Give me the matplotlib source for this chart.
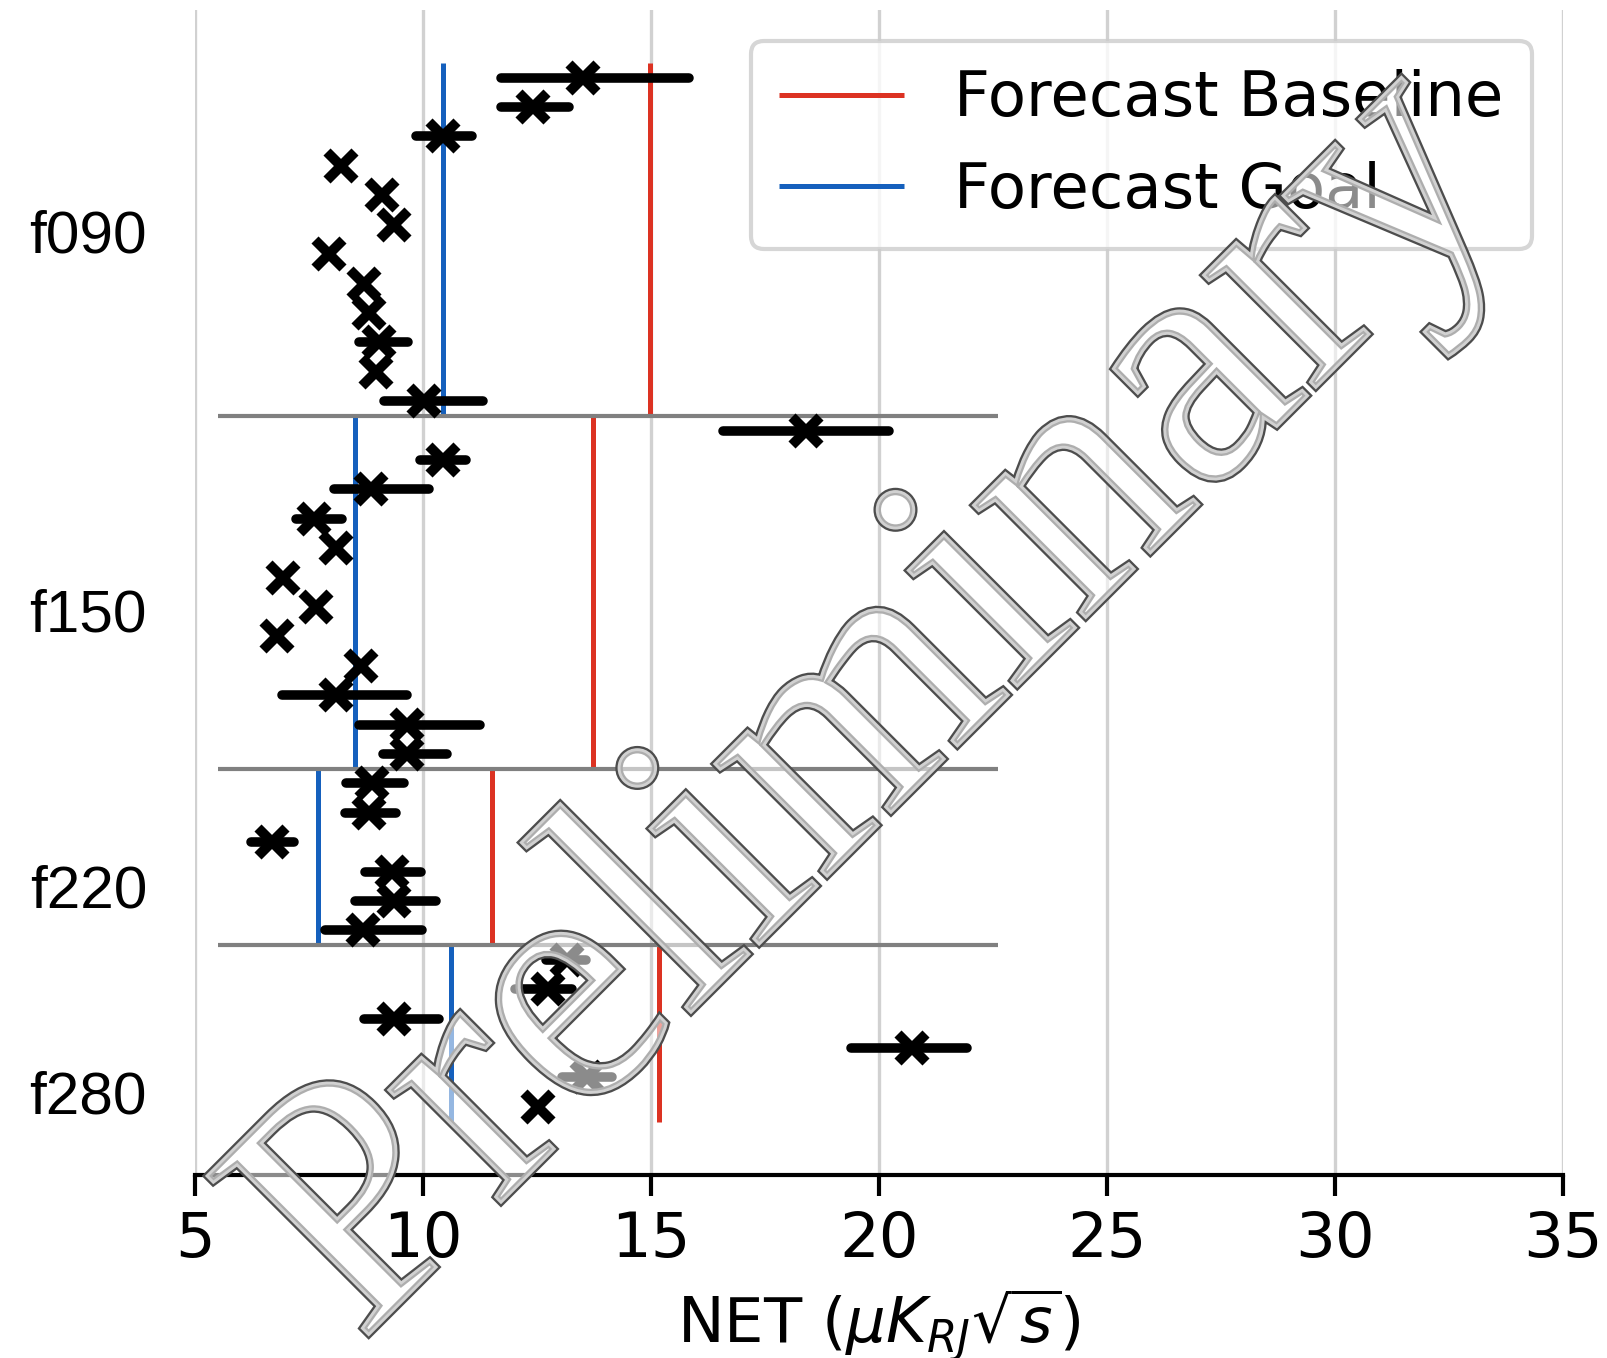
import numpy as np
import matplotlib.pyplot as plt
import matplotlib.patheffects as pe

plt.rcParams['font.family'] = ['DejaVu Sans']
plt.rcParams['font.size'] = 15

# band names and forecast values
bands = ["f090", "f150", "f220", "f280"]
band_counts = [12, 12, 6, 6]
label_rows = [5.2, 18.1, 27.5, 34.5]
baseline = [14.97, 13.73, 11.52, 15.17]
goal = [10.45, 8.51, 7.69, 10.61]

# measured NET per detector set (central value, lower, upper)
net_mid = [13.51, 12.42, 10.45, 8.20, 9.11, 9.36, 7.95, 8.71, 8.82, 9.03, 8.96, 10.03,
           18.39, 10.43, 8.86, 7.61, 8.09, 6.94, 7.66, 6.80, 8.65, 8.09, 9.64, 9.64,
           8.89, 8.82, 6.68, 9.32, 9.37, 8.68,
           13.16, 12.75, 9.37, 20.72, 13.59, 12.53]
net_lo = [11.72, 11.72, 9.84, 8.20, 9.11, 9.36, 7.95, 8.71, 8.82, 8.59, 8.96, 9.14,
          16.58, 9.93, 8.04, 7.21, 8.09, 6.94, 7.66, 6.80, 8.65, 6.90, 8.59, 9.12,
          8.32, 8.28, 6.22, 8.74, 8.51, 7.86,
          12.70, 12.02, 8.71, 19.39, 13.04, 12.53]
net_hi = [15.83, 13.21, 11.08, 8.20, 9.11, 9.36, 7.95, 8.71, 8.82, 9.67, 8.96, 11.31,
          20.23, 10.94, 10.14, 8.23, 8.09, 6.94, 7.66, 6.80, 8.65, 9.66, 11.26, 10.53,
          9.58, 9.41, 7.17, 9.95, 10.29, 9.97,
          13.57, 13.26, 10.35, 21.93, 14.14, 12.53]

red = "#dc3222"
blue = "#1560bd"

net_mid = np.array(net_mid)
rows = np.arange(len(net_mid))
xerr = [net_mid - np.array(net_lo), np.array(net_hi) - net_mid]

fig = plt.figure(figsize=(1607 / 300, 1358 / 300), dpi=300)
ax = fig.add_axes([0.1213, 0.1351, 0.8513, 0.8575])

ax.grid(axis="x", color="0.82", lw=0.8)
ax.set_axisbelow(True)

eb = ax.errorbar(net_mid, rows, xerr=xerr, fmt="x", color="k", ecolor="k",
                 elinewidth=2.3, capsize=0, ms=6.5, mew=2.4, zorder=3)
for lc in eb[2]:
    lc.set_capstyle("round")

# per band forecast lines and separators
edges = np.concatenate([[0], np.cumsum(band_counts)]) - 0.5
for i in range(len(bands)):
    ax.vlines(baseline[i], edges[i], edges[i + 1], color=red, lw=1.2, zorder=2,
              label="Forecast Baseline" if i == 0 else None)
    ax.vlines(goal[i], edges[i], edges[i + 1], color=blue, lw=1.2, zorder=2,
              label="Forecast Goal" if i == 0 else None)
ax.hlines(edges[1:-1], 5.5, 22.6, color="0.5", lw=1.0, zorder=2)

ax.set_xlim(5, 35)
ax.set_ylim(37.3, -2.3)
ax.set_xticks(np.arange(5, 36, 5))
ax.set_yticks(label_rows)
ax.set_yticklabels(bands, family="Liberation Sans", fontsize=14.5)
ax.tick_params(axis="y", length=0, pad=11.5)
ax.tick_params(axis="x", length=5, width=1.0, color="k")
for s in ["left", "top", "right"]:
    ax.spines[s].set_visible(False)
ax.spines["bottom"].set_linewidth(1.0)
ax.spines["bottom"].set_color("k")
ax.set_xlabel(r"NET ($\mu K_{RJ}\sqrt{s}$)")

ax.legend(loc="upper right", borderpad=0.45)

# watermark: see-through fill with a grey bevelled outline
fig.text(0.547, 0.479, "Preliminary", rotation=45, fontsize=83,
         family="Liberation Serif", ha="center", va="center", zorder=10,
         path_effects=[pe.PathPatchEffect(edgecolor="0.3", facecolor="none", linewidth=1.8),
                       pe.PathPatchEffect(edgecolor="0.82", facecolor=(1, 1, 1, 0.55),
                                          linewidth=0.7)])

fig.savefig("out.png", dpi=300)
